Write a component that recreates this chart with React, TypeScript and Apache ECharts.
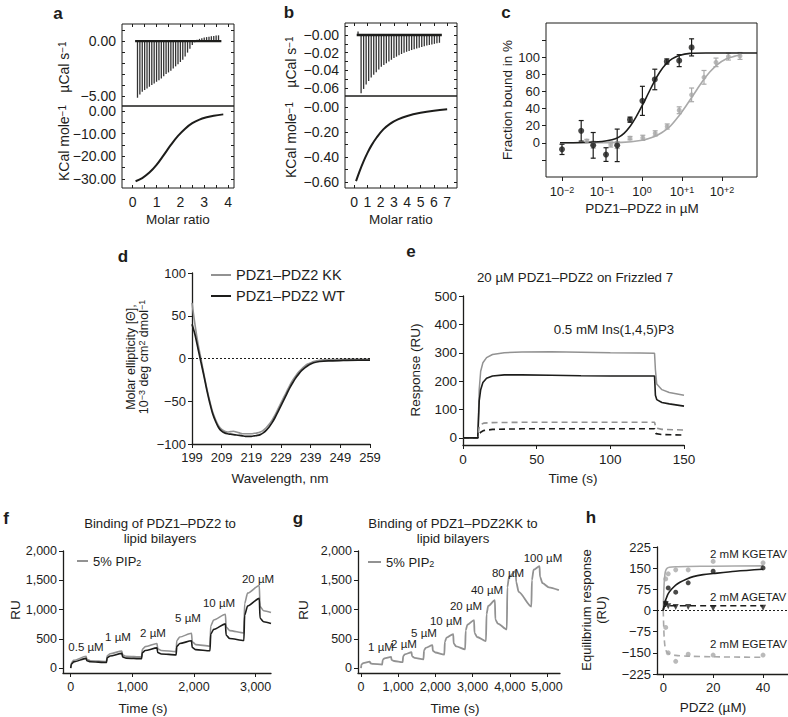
import React, { useEffect, useRef } from 'react';
import * as echarts from 'echarts';

const FONT = '"Liberation Sans", Arial, Helvetica, sans-serif';
const INK = '#1d1d1b';
const GREY = '#929292';
const LGREY = '#a9a9a9';

// ---------- a : ITC ----------
const aSpikeRatio = [0.2, 0.3, 0.4, 0.5, 0.6, 0.7, 0.8, 0.9, 1.0, 1.1, 1.2, 1.3, 1.4, 1.5, 1.6, 1.7, 1.8, 1.9, 2.0, 2.1, 2.2, 2.3, 2.4, 2.5, 2.6, 2.7, 2.8, 2.9, 3.0, 3.1, 3.2, 3.3, 3.4, 3.5, 3.6];
const aSpikeHeat = [-5.15, -4.85, -4.6, -4.45, -4.3, -4.15, -4.0, -3.85, -3.7, -3.55, -3.4, -3.2, -3.0, -2.85, -2.7, -2.5, -2.3, -2.1, -1.9, -1.7, -1.4, -1.05, -0.7, -0.35, -0.1, 0.12, 0.2, 0.26, 0.32, 0.36, 0.4, 0.44, 0.47, 0.5, 0.52];
const aBaseRatio = [0.1, 3.72];
const aBaseHeat = [0, 0];
const aFitRatio = [0.12, 0.4, 0.7, 1.0, 1.3, 1.6, 1.9, 2.2, 2.5, 2.8, 3.1, 3.4, 3.8];
const aFitKcal = [-31, -29.6, -27.2, -23.8, -19.5, -15, -11, -7.8, -5.4, -3.8, -2.8, -2.1, -1.5];

// ---------- b : ITC ----------
const bSpikeRatio = [0.3, 0.53, 0.72, 0.91, 1.1, 1.29, 1.48, 1.67, 1.86, 2.05, 2.24, 2.43, 2.62, 2.81, 3.0, 3.19, 3.38, 3.57, 3.76, 3.95, 4.14, 4.33, 4.52, 4.71, 4.9, 5.09, 5.28, 5.47, 5.66, 5.85, 6.04, 6.23, 6.42];
const bSpikeHeat = [0.004, -0.066, -0.061, -0.056, -0.052, -0.048, -0.045, -0.042, -0.039, -0.036, -0.034, -0.032, -0.03, -0.028, -0.026, -0.0245, -0.023, -0.0215, -0.02, -0.019, -0.018, -0.017, -0.016, -0.0152, -0.0144, -0.0136, -0.0128, -0.012, -0.0114, -0.0108, -0.01, -0.0094, -0.0088];
const bBaseRatio = [0.2, 6.6];
const bBaseHeat = [0, 0];
const bFitRatio = [0.15, 0.4, 0.7, 1.0, 1.3, 1.7, 2.2, 2.7, 3.3, 4.0, 5.0, 6.0, 7.0];
const bFitKcal = [-0.595, -0.52, -0.44, -0.37, -0.31, -0.245, -0.18, -0.135, -0.1, -0.072, -0.047, -0.03, -0.019];

// ---------- c : binding (x = log10 of µM) ----------
const cBlackLog = [-2.0, -1.52, -1.22, -0.9, -0.62, -0.3, 0.01, 0.32, 0.62, 0.93, 1.24];
const cBlackBound = [-7.7, 14, -3, -13.8, -3, 27, 49, 74, 95, 96, 111.5];
const cBlackErr = [6, 12, 15, 8, 19, 3, 17, 12, 3, 7, 10];
const cGreyLog = [-1.38, -1.22, -0.78, -0.62, -0.3, 0.02, 0.33, 0.63, 0.93, 1.24, 1.55, 1.85, 2.16, 2.45];
const cGreyBound = [2, -2.3, -2, -2.7, 5.4, 5.8, 11, 19, 38, 56, 76.5, 94, 100.7, 101.5];
const cGreyErr = [2, 4, 3, 4, 2, 3, 3, 3, 4, 8, 8, 5, 4, 4];
const cBlackFitLog = [-2.05, -1.5, -1.0, -0.75, -0.6, -0.45, -0.3, -0.15, 0, 0.15, 0.3, 0.45, 0.6, 0.75, 0.93, 1.2, 1.6, 2.875];
const cBlackFitBound = [0, 0.3, 1.5, 3.5, 6, 11, 19, 30, 43, 57, 71, 83, 92, 98, 102, 104.5, 105, 105];
const cGreyFitLog = [-2.05, -0.5, 0, 0.3, 0.5, 0.7, 0.9, 1.1, 1.3, 1.5, 1.7, 1.9, 2.1, 2.3, 2.45];
const cGreyFitBound = [0, 0.5, 3, 7, 12, 19, 30, 43, 57, 71, 83, 92, 98, 101, 102.5];

// ---------- d : CD spectra ----------
const dWave = [199, 200, 201, 202, 203, 204, 205, 206, 207, 208, 209, 210, 211, 212, 213, 214, 215, 216, 217, 218, 219, 220, 221, 222, 223, 224, 225, 226, 227, 228, 229, 230, 231, 232, 233, 234, 235, 236, 237, 238, 239, 240, 242, 245, 250, 255, 259];
const dKK = [65, 40, 18, 0, -18, -35, -50, -63, -72, -79, -83, -85, -86, -85.5, -85, -86, -87, -88, -88, -88, -88, -87.5, -87, -86, -84, -81, -77, -72, -66, -59, -52, -45, -38, -31, -25, -20, -15.5, -12, -9, -6.5, -5, -3.5, -2, -1.2, -0.8, -0.6, -0.5];
const dWT = [40, 28, 12, -4, -20, -37, -52, -65, -74, -81, -85, -87, -88, -88.5, -89, -89.5, -90, -90.5, -91, -91, -91, -90.5, -90, -89, -87, -84, -80, -75, -69, -62, -55, -48, -41, -34, -28, -22.5, -18, -14, -11, -8.5, -6.5, -5, -3.5, -2.7, -2.3, -2, -2];

// ---------- e : SPR on Frizzled 7 ----------
const eGreySolid = [[0, 0], [10, 0], [10.5, 80], [11, 170], [12, 235], [13.5, 265], [16, 283], [20, 294], [28, 300], [40, 303], [60, 304], [80, 302], [100, 300], [120, 299], [130, 298], [130.6, 240], [131.5, 190], [135, 170], [140, 160], [150, 150]];
const eBlackSolid = [[0, 0], [10, 0], [10.5, 60], [11, 130], [12, 170], [13.5, 195], [16, 210], [20, 218], [28, 222], [40, 222], [60, 221], [80, 219], [100, 218], [120, 218], [130, 218], [130.6, 150], [131.5, 135], [135, 125], [140, 120], [150, 112]];
const eGreyDash = [[0, 0], [10, 0], [10.5, 20], [11, 40], [12, 48], [14, 52], [20, 54], [40, 55], [80, 55], [130, 55], [131, 35], [135, 30], [150, 28]];
const eBlackDash = [[0, 0], [10, 0], [11, 12], [12, 20], [14, 26], [20, 30], [40, 32], [80, 32], [130, 32], [131, 15], [135, 12], [150, 10]];

// ---------- f : PDZ1-PDZ2 on lipid bilayers ----------
const fGrey = [[0, 0], [12, 90], [50, 130], [250, 200], [262, 150], [320, 125], [580, 110], [592, 210], [640, 245], [830, 290], [842, 225], [900, 200], [1150, 190], [1162, 320], [1210, 365], [1400, 420], [1412, 330], [1470, 300], [1710, 280], [1722, 470], [1770, 530], [1960, 595], [1972, 450], [2030, 400], [2260, 375], [2272, 720], [2320, 820], [2510, 920], [2522, 700], [2580, 640], [2810, 600], [2822, 1100], [2870, 1280], [3060, 1410], [3072, 1050], [3130, 980], [3250, 950]];
const fBlack = [[0, 0], [12, 70], [50, 105], [250, 165], [262, 125], [320, 108], [580, 95], [592, 175], [640, 205], [830, 250], [842, 190], [900, 170], [1150, 160], [1162, 260], [1210, 300], [1400, 345], [1412, 265], [1470, 240], [1710, 225], [1722, 370], [1770, 420], [1960, 465], [1972, 350], [2030, 315], [2260, 295], [2272, 580], [2320, 660], [2510, 755], [2522, 560], [2580, 505], [2810, 470], [2822, 900], [2870, 1060], [3060, 1190], [3072, 850], [3130, 790], [3250, 760]];
const fConcLabels = ['0.5 µM', '1 µM', '2 µM', '5 µM', '10 µM', '20 µM'];

// ---------- g : PDZ1-PDZ2KK on lipid bilayers ----------
const gGrey = [[0, 0], [15, 60], [60, 85], [240, 110], [252, 82], [320, 70], [570, 60], [585, 140], [630, 165], [810, 190], [822, 140], [890, 120], [1120, 100], [1135, 205], [1180, 235], [1360, 270], [1372, 200], [1440, 175], [1680, 150], [1695, 300], [1740, 345], [1920, 390], [1932, 295], [2000, 265], [2240, 230], [2255, 450], [2300, 520], [2480, 580], [2492, 420], [2560, 370], [2800, 320], [2815, 640], [2860, 740], [3040, 820], [3052, 600], [3120, 530], [3360, 460], [3375, 920], [3420, 1060], [3600, 1160], [3612, 830], [3680, 760], [3920, 660], [3935, 1380], [3980, 1560], [4160, 1660], [4172, 1470], [4240, 1300], [4580, 1050], [4595, 1500], [4640, 1680], [4800, 1740], [4812, 1560], [4880, 1450], [5050, 1380], [5320, 1330]];
const gConcLabels = ['1 µM', '2 µM', '5 µM', '10 µM', '20 µM', '40 µM', '80 µM', '100 µM'];

// ---------- h : equilibrium response ----------
const hKGreyPts = [[1, 112], [2, 130], [5, 144], [10, 144], [20, 174], [40, 169]];
const hKBlackPts = [[1, 27], [2, 80], [5, 65], [10, 98], [20, 139], [40, 151]];
const hAPts = [[1, 22], [2, 15], [5, 12], [10, 12], [20, 8], [40, 10]];
const hEGreyPts = [[1, -60], [2, -150], [5, -180], [10, -155], [20, -158], [40, -158]];
const hKGreyFit = [[0, 0], [0.2, 60], [0.4, 100], [0.7, 130], [1, 142], [1.5, 149], [2.5, 153], [5, 155], [10, 156], [20, 157], [40, 158]];
const hKBlackFit = [[0, 0], [0.5, 25], [1.3, 45], [2, 60], [3.3, 75], [5, 90], [6.7, 100], [9, 110], [12, 120], [16, 127], [20, 131], [29, 139], [40, 146]];
const hAFit = [[0, 0], [0.3, 12], [1, 16], [5, 17], [40, 17]];
const hEFit = [[0, 0], [0.2, -60], [0.4, -100], [0.7, -128], [1, -140], [1.5, -148], [2.5, -154], [5, -159], [10, -162], [20, -164], [40, -166]];

// ---------- helpers ----------
const pair = (xs: number[], ys: number[]) => xs.map((x, i) => [x, ys[i]]);
const minus = (v: number, d: number) => (v === 0 ? (d ? '0.00' : '0') : (v < 0 ? '\u2212' : '') + Math.abs(v).toFixed(d));
const comma = (v: number) => v.toLocaleString('en-US');

function ax(o: any) {
  return {
    type: 'value',
    gridIndex: o.g,
    position: o.pos,
    min: o.min,
    max: o.max,
    axisLine: { show: o.line !== false, onZero: false, lineStyle: { color: INK, width: 1.3 } },
    axisTick: { show: !!o.ticks, inside: !!o.inside, length: o.tl ?? 4, customValues: o.ticks, lineStyle: { color: INK, width: 1 } },
    axisLabel: {
      show: !!o.labels,
      customValues: o.labels,
      formatter: o.fmt,
      color: INK,
      fontFamily: FONT,
      fontSize: o.fs ?? 12,
      margin: o.margin ?? 6,
      rich: o.rich,
    },
    splitLine: { show: false },
  };
}

const range = (a: number, b: number, s: number) => {
  const r: number[] = [];
  for (let v = a; v <= b + 1e-9; v += s) r.push(Math.round(v * 1000) / 1000);
  return r;
};

function errorBars(xi: number, yi: number, xs: number[], ys: number[], es: number[], color: string) {
  return {
    type: 'custom',
    xAxisIndex: xi,
    yAxisIndex: yi,
    silent: true,
    z: 3,
    data: xs.map((x, i) => [x, ys[i] - es[i], ys[i] + es[i]]),
    encode: { x: 0, y: [1, 2] },
    renderItem: (params: any, api: any) => {
      const x = api.value(0);
      const lo = api.coord([x, api.value(1)]);
      const hi = api.coord([x, api.value(2)]);
      const c = 2.5;
      const st = { stroke: color, lineWidth: 1.2 };
      return {
        type: 'group',
        children: [
          { type: 'line', shape: { x1: lo[0], y1: lo[1], x2: hi[0], y2: hi[1] }, style: st },
          { type: 'line', shape: { x1: lo[0] - c, y1: lo[1], x2: lo[0] + c, y2: lo[1] }, style: st },
          { type: 'line', shape: { x1: hi[0] - c, y1: hi[1], x2: hi[0] + c, y2: hi[1] }, style: st },
        ],
      };
    },
  };
}

function line(xi: number, yi: number, data: any[], color: string, width = 1.5, dashed = false, extra: any = {}) {
  return {
    type: 'line',
    xAxisIndex: xi,
    yAxisIndex: yi,
    data,
    symbol: 'none',
    silent: true,
    lineStyle: { color, width, type: dashed ? [6, 4] : 'solid' },
    ...extra,
  };
}

function scatter(xi: number, yi: number, data: any[], color: string, symbol = 'circle', size = 5, rot = 0) {
  return { type: 'scatter', xAxisIndex: xi, yAxisIndex: yi, data, symbol, symbolSize: size, symbolRotate: rot, silent: true, itemStyle: { color }, z: 4 };
}

function txt(x: number, y: number, text: string, o: any = {}) {
  const align = o.align || 'center';
  const va = o.va || 'middle';
  return {
    type: 'text',
    x,
    y,
    rotation: o.rot || 0,
    silent: true,
    z: 100,
    style: {
      text,
      fill: INK,
      fontFamily: FONT,
      fontSize: o.size || 12,
      fontWeight: o.weight || 'normal',
      align,
      verticalAlign: va,
      textAlign: align,
      textVerticalAlign: va,
      lineHeight: o.lh,
      rich: o.rich,
    },
  };
}

const supRich = (base: number) => ({
  sup: { fontSize: Math.round(base * 0.68), fontFamily: FONT, fill: INK, color: INK, verticalAlign: 'top', lineHeight: base },
  sub: { fontSize: Math.round(base * 0.68), fontFamily: FONT, fill: INK, color: INK, verticalAlign: 'bottom', lineHeight: base },
});

function legendLine(x1: number, x2: number, y: number, color: string) {
  return { type: 'line', silent: true, z: 100, shape: { x1, y1: y, x2, y2: y }, style: { stroke: color, lineWidth: 2 } };
}

function buildOption(): any {
  const grids = [
    { left: 122, top: 24, width: 112, height: 82 }, // 0 a top
    { left: 122, top: 106, width: 112, height: 82 }, // 1 a bottom
    { left: 345, top: 23, width: 112, height: 73 }, // 2 b top
    { left: 345, top: 96, width: 112, height: 92 }, // 3 b bottom
    { left: 546, top: 23, width: 211, height: 154 }, // 4 c
    { left: 192, top: 273, width: 178, height: 171 }, // 5 d
    { left: 463, top: 296, width: 221, height: 149 }, // 6 e
    { left: 63, top: 551, width: 208, height: 122 }, // 7 f
    { left: 358, top: 551, width: 202, height: 122 }, // 8 g
    { left: 657, top: 547, width: 131, height: 127 }, // 9 h
  ].map((g, i) => ({
    ...g,
    outerBoundsMode: 'none',
    containLabel: false,
    show: i <= 4,
    borderColor: INK,
    borderWidth: 1,
    backgroundColor: 'transparent',
  }));

  const cExpLabel: Record<string, string> = { '-2': '\u22122', '-1': '\u22121', '0': '0', '1': '+1', '2': '+2' };
  const AB = 14;

  const xAxis = [
    ax({ g: 0, pos: 'top', min: -0.45, max: 4.25, line: false, ticks: range(0, 4, 0.5), inside: true, tl: 3 }),
    ax({ g: 1, pos: 'bottom', min: -0.45, max: 4.25, line: false, ticks: range(0, 4, 0.5), inside: true, tl: 3, labels: [0, 1, 2, 3, 4], fmt: (v: number) => String(v), margin: 7, fs: AB }),
    ax({ g: 2, pos: 'top', min: -0.68, max: 7.74, line: false, ticks: range(0, 7, 1), inside: true, tl: 3 }),
    ax({ g: 3, pos: 'bottom', min: -0.68, max: 7.74, line: false, ticks: range(0, 7, 1), inside: true, tl: 3, labels: range(0, 7, 1), fmt: (v: number) => String(v), margin: 7, fs: AB }),
    ax({
      g: 4, pos: 'bottom', min: -2.4, max: 2.875, line: false, ticks: [-2, -1, 0, 1, 2], tl: 4, labels: [-2, -1, 0, 1, 2],
      fmt: (v: number) => `10{sup|${cExpLabel[String(Math.round(v))]}}`, margin: 8, fs: 13, rich: supRich(13),
    }),
    ax({ g: 5, pos: 'bottom', min: 199, max: 259, ticks: range(199, 259, 10), labels: range(199, 259, 10), fmt: (v: number) => String(v), margin: 7, fs: 13 }),
    ax({ g: 6, pos: 'bottom', min: 0, max: 150, ticks: [0, 50, 100, 150], labels: [0, 50, 100, 150], fmt: (v: number) => String(v), margin: 7, fs: 13.5 }),
    ax({ g: 7, pos: 'bottom', min: -125, max: 3250, ticks: [0, 1000, 2000, 3000], labels: [0, 1000, 2000, 3000], fmt: comma, margin: 7, fs: 12.5 }),
    ax({ g: 8, pos: 'bottom', min: -80, max: 5350, ticks: [0, 1000, 2000, 3000, 4000, 5000], labels: [0, 1000, 2000, 3000, 4000, 5000], fmt: comma, margin: 7, fs: 12.5 }),
    ax({ g: 9, pos: 'bottom', min: -2.5, max: 50, ticks: [0, 20, 40], labels: [0, 20, 40], fmt: (v: number) => String(v), margin: 7, fs: 13 }),
  ];

  const yAxis = [
    ax({ g: 0, pos: 'left', min: -5.9, max: 1.55, line: false, ticks: range(-5, 1, 1), inside: true, tl: 3, labels: [0, -5], fmt: (v: number) => minus(v, 2), margin: 6, fs: AB }),
    ax({ g: 1, pos: 'left', min: -34, max: 2.2, line: false, ticks: range(-30, 0, 5), inside: true, tl: 3, labels: [0, -10, -20, -30], fmt: (v: number) => minus(v, 2), margin: 6, fs: AB }),
    ax({ g: 2, pos: 'left', min: -0.069, max: 0.0136, line: false, ticks: [-0.06, -0.05, -0.04, -0.03, -0.02, -0.01, 0, 0.01], inside: true, tl: 3, labels: [0, -0.02, -0.04, -0.06], fmt: (v: number) => '\u2212' + Math.abs(v).toFixed(2), margin: 6, fs: AB }),
    ax({ g: 3, pos: 'left', min: -0.65, max: 0.088, line: false, ticks: [-0.6, -0.5, -0.4, -0.3, -0.2, -0.1, 0], inside: true, tl: 3, labels: [0, -0.2, -0.4, -0.6], fmt: (v: number) => '\u2212' + Math.abs(v).toFixed(2), margin: 6, fs: AB }),
    ax({ g: 4, pos: 'left', min: -40, max: 140, line: false, ticks: range(-20, 120, 20), tl: 4, labels: range(0, 100, 20), fmt: (v: number) => String(v), margin: 6, fs: 13 }),
    ax({ g: 5, pos: 'left', min: -100, max: 100, ticks: range(-100, 100, 50), labels: range(-100, 100, 50), fmt: (v: number) => minus(v, 0), margin: 6, fs: 13 }),
    ax({ g: 6, pos: 'left', min: -25, max: 500, ticks: range(0, 500, 100), labels: range(0, 500, 100), fmt: (v: number) => String(v), margin: 6, fs: 13.5 }),
    ax({ g: 7, pos: 'left', min: -85, max: 2000, ticks: range(0, 2000, 500), labels: range(0, 2000, 500), fmt: comma, margin: 6, fs: 12.5 }),
    ax({ g: 8, pos: 'left', min: -85, max: 2000, ticks: range(0, 2000, 500), labels: range(0, 2000, 500), fmt: comma, margin: 6, fs: 12.5 }),
    ax({ g: 9, pos: 'left', min: -225, max: 225, ticks: range(-225, 225, 75), labels: range(-225, 225, 75), fmt: (v: number) => minus(v, 0), margin: 6, fs: 13 }),
    ax({ g: 0, pos: 'right', min: -5.9, max: 1.55, line: false, ticks: range(-5, 1, 1), inside: true, tl: 3 }),
    ax({ g: 1, pos: 'right', min: -34, max: 2.2, line: false, ticks: range(-30, 0, 5), inside: true, tl: 3 }),
    ax({ g: 2, pos: 'right', min: -0.069, max: 0.0136, line: false, ticks: [-0.06, -0.05, -0.04, -0.03, -0.02, -0.01, 0, 0.01], inside: true, tl: 3 }),
    ax({ g: 3, pos: 'right', min: -0.65, max: 0.088, line: false, ticks: [-0.6, -0.5, -0.4, -0.3, -0.2, -0.1, 0], inside: true, tl: 3 }),
  ];

  const zeroDotted = { silent: true, symbol: 'none', label: { show: false }, lineStyle: { type: [2, 2], color: INK, width: 1 }, data: [{ yAxis: 0 }] };

  const series: any[] = [
    { type: 'bar', xAxisIndex: 0, yAxisIndex: 0, data: pair(aSpikeRatio, aSpikeHeat), barWidth: 1.3, itemStyle: { color: '#333' }, silent: true },
    line(0, 0, pair(aBaseRatio, aBaseHeat), INK, 2.2),
    line(1, 1, pair(aFitRatio, aFitKcal), INK, 2, false, { smooth: 0.4 }),
    { type: 'bar', xAxisIndex: 2, yAxisIndex: 2, data: pair(bSpikeRatio, bSpikeHeat), barWidth: 1.3, itemStyle: { color: '#333' }, silent: true },
    line(2, 2, pair(bBaseRatio, bBaseHeat), INK, 2.4),
    line(3, 3, pair(bFitRatio, bFitKcal), INK, 2, false, { smooth: 0.4 }),
    line(4, 4, pair(cGreyFitLog, cGreyFitBound), LGREY, 1.6, false, { smooth: 0.3 }),
    line(4, 4, pair(cBlackFitLog, cBlackFitBound), INK, 1.6, false, { smooth: 0.3 }),
    errorBars(4, 4, cGreyLog, cGreyBound, cGreyErr, LGREY),
    errorBars(4, 4, cBlackLog, cBlackBound, cBlackErr, INK),
    scatter(4, 4, pair(cGreyLog, cGreyBound), LGREY, 'circle', 5),
    scatter(4, 4, pair(cBlackLog, cBlackBound), INK, 'circle', 6),
    line(5, 5, pair(dWave, dKK), GREY, 1.6, false, { smooth: 0.3, markLine: zeroDotted }),
    line(5, 5, pair(dWave, dWT), INK, 1.7, false, { smooth: 0.3 }),
    line(6, 6, eGreySolid, GREY, 1.5),
    line(6, 6, eBlackSolid, INK, 1.6),
    line(6, 6, eGreyDash, GREY, 1.6, true),
    line(6, 6, eBlackDash, INK, 1.6, true),
    line(7, 7, fGrey, GREY, 1.6, false, { smooth: 0.25, smoothMonotone: 'x' }),
    line(7, 7, fBlack, INK, 1.6, false, { smooth: 0.25, smoothMonotone: 'x' }),
    line(8, 8, gGrey, GREY, 1.8, false, { smooth: 0.25, smoothMonotone: 'x' }),
    line(9, 9, hKGreyFit, LGREY, 1.6, false, { smooth: 0.3, markLine: zeroDotted }),
    line(9, 9, hEFit, LGREY, 1.6, true, { smooth: 0.3 }),
    line(9, 9, hKBlackFit, INK, 1.6, false, { smooth: 0.3 }),
    line(9, 9, hAFit, INK, 1.6, true, { smooth: 0.3 }),
    scatter(9, 9, hKGreyPts, LGREY, 'circle', 5),
    scatter(9, 9, hEGreyPts, LGREY, 'circle', 5),
    scatter(9, 9, hKBlackPts, INK, 'circle', 5),
    scatter(9, 9, hAPts, INK, 'triangle', 6, 180),
  ];

  const r13 = supRich(13);
  const r14 = supRich(14);

  const fLabelPos = [[86, 647], [118, 637], [153, 633], [188, 618], [219, 603], [258, 579]];
  const gLabelPos = [[381, 647], [404, 644], [424, 633], [446, 621], [466, 606], [487, 590], [508, 573], [543, 558]];

  const graphic: any[] = [
    txt(58, 13, 'a', { size: 17, weight: 'bold' }),
    txt(289, 12, 'b', { size: 17, weight: 'bold' }),
    txt(506, 12, 'c', { size: 17, weight: 'bold' }),
    txt(123, 256, 'd', { size: 17, weight: 'bold' }),
    txt(411, 251, 'e', { size: 17, weight: 'bold' }),
    txt(6, 518, 'f', { size: 17, weight: 'bold' }),
    txt(298, 518, 'g', { size: 17, weight: 'bold' }),
    txt(591, 517, 'h', { size: 17, weight: 'bold' }),
    // a
    txt(64, 67, '\u00b5Cal s{sup|\u22121}', { rot: Math.PI / 2, size: 14, rich: r14 }),
    txt(64, 143, 'KCal mole{sup|\u22121}', { rot: Math.PI / 2, size: 14, rich: r14 }),
    txt(178, 219, 'Molar ratio', { size: 13.5 }),
    // b
    txt(291, 62, '\u00b5Cal s{sup|\u22121}', { rot: Math.PI / 2, size: 14, rich: r14 }),
    txt(291, 140, 'KCal mole{sup|\u22121}', { rot: Math.PI / 2, size: 14, rich: r14 }),
    txt(401, 219, 'Molar ratio', { size: 13.5 }),
    // c
    txt(507, 100, 'Fraction bound in %', { rot: Math.PI / 2, size: 13.5 }),
    txt(642, 208, 'PDZ1\u2013PDZ2 in \u00b5M', { size: 13.5 }),
    // d
    txt(131, 357, 'Molar ellipticity [\u0398],', { rot: Math.PI / 2, size: 12.5 }),
    txt(144, 357, '10{sup|\u22123} deg cm{sup|2} dmol{sup|\u22121}', { rot: Math.PI / 2, size: 12.5, rich: supRich(12.5) }),
    txt(280, 478, 'Wavelength, nm', { size: 13.5 }),
    legendLine(211, 231, 275, GREY),
    txt(236, 275, 'PDZ1\u2013PDZ2 KK', { align: 'left', size: 14.5 }),
    legendLine(211, 231, 296, INK),
    txt(236, 296, 'PDZ1\u2013PDZ2 WT', { align: 'left', size: 14.5 }),
    // e
    txt(415, 370, 'Response (RU)', { rot: Math.PI / 2, size: 13.5 }),
    txt(573, 478, 'Time (s)', { size: 13.5 }),
    txt(575, 277, '20 \u00b5M PDZ1\u2013PDZ2 on Frizzled 7', { size: 13.3 }),
    txt(614, 329, '0.5 mM Ins(1,4,5)P3', { size: 13.3 }),
    // f
    txt(15, 610, 'RU', { rot: Math.PI / 2, size: 13.5 }),
    txt(143, 708, 'Time (s)', { size: 13.5 }),
    txt(160, 523, 'Binding of PDZ1\u2013PDZ2 to', { size: 13.2 }),
    txt(160, 538, 'lipid bilayers', { size: 13.2 }),
    legendLine(77, 88, 561, GREY),
    txt(93, 561, '5% PIP{sub|2}', { align: 'left', size: 13, rich: r13 }),
    ...fConcLabels.map((s, i) => txt(fLabelPos[i][0], fLabelPos[i][1], s, { size: 11.5 })),
    // g
    txt(303, 610, 'RU', { rot: Math.PI / 2, size: 13.5 }),
    txt(455, 708, 'Time (s)', { size: 13.5 }),
    txt(453, 523, 'Binding of PDZ1\u2013PDZ2KK to', { size: 13.2 }),
    txt(453, 538, 'lipid bilayers', { size: 13.2 }),
    legendLine(368, 381, 562, GREY),
    txt(386, 562, '5% PIP{sub|2}', { align: 'left', size: 13, rich: r13 }),
    ...gConcLabels.map((s, i) => txt(gLabelPos[i][0], gLabelPos[i][1], s, { size: 11.5 })),
    // h
    txt(594, 610, 'Equilibrium response\n(RU)', { rot: Math.PI / 2, size: 13, lh: 15 }),
    txt(713, 707, 'PDZ2 (\u00b5M)', { size: 13.5 }),
    txt(710, 554, '2 mM KGETAV', { align: 'left', size: 11.5 }),
    txt(710, 597, '2 mM AGETAV', { align: 'left', size: 11.5 }),
    txt(710, 644, '2 mM EGETAV', { align: 'left', size: 11.5 }),
  ];

  return {
    animation: false,
    backgroundColor: '#ffffff',
    textStyle: { fontFamily: FONT },
    grid: grids,
    xAxis,
    yAxis,
    series,
    graphic,
  };
}

export default function App() {
  const ref = useRef<HTMLDivElement>(null);
  useEffect(() => {
    if (!ref.current) return;
    const chart = echarts.init(ref.current, undefined, { renderer: 'svg' });
    chart.setOption(buildOption());
    return () => chart.dispose();
  }, []);
  return <div ref={ref} style={{ position: 'absolute', left: 0, top: 0, width: 788, height: 717, background: '#fff' }} />;
}
